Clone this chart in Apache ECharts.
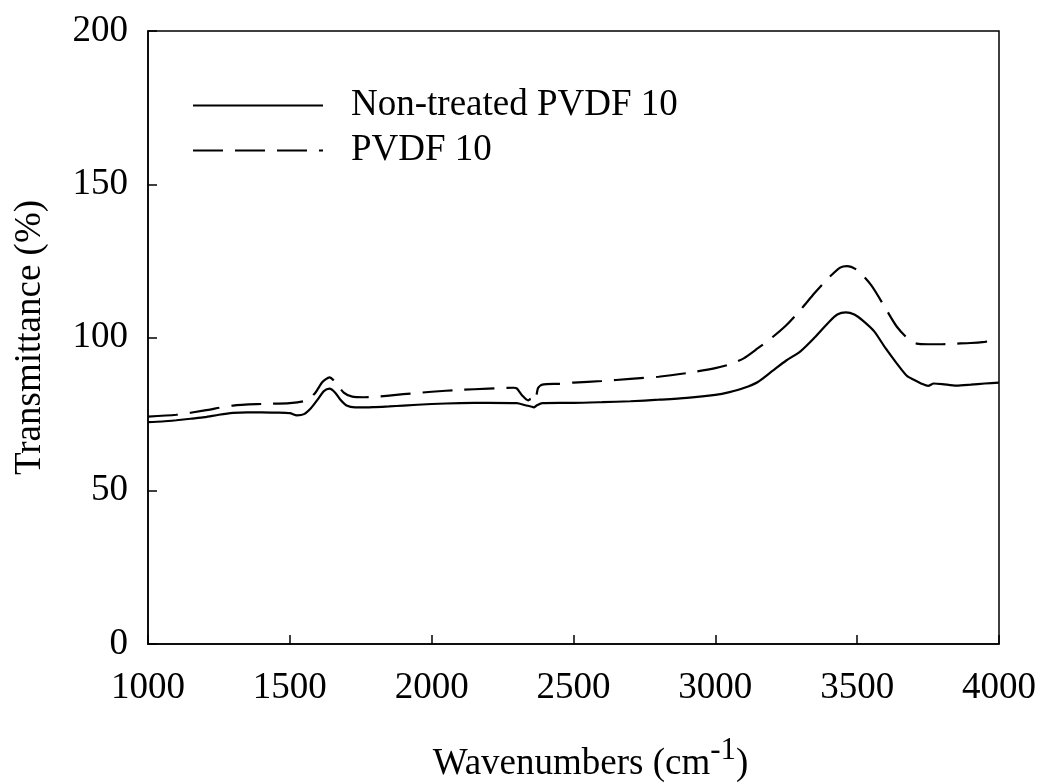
<!DOCTYPE html>
<html>
<head>
<meta charset="utf-8">
<script src="https://cdn.jsdelivr.net/npm/echarts@6/dist/echarts.min.js"></script>
<style>
html,body{margin:0;padding:0;background:#fff;}
#chart{width:1040px;height:784px;}
</style>
</head>
<body>
<div id="chart"></div>
<script>
var xTicks = [1000, 1500, 2000, 2500, 3000, 3500, 4000];
var yTicks = [0, 50, 100, 150, 200];
var seriesNames = ['Non-treated PVDF 10', 'PVDF 10'];

var nonTreated = [
  [1000,72.4],[1050,72.6],[1100,73.0],[1150,73.5],[1200,74.0],[1250,74.8],[1300,75.4],
  [1350,75.6],[1400,75.6],[1450,75.5],[1500,75.3],[1525,74.6],[1550,75.0],[1575,77.0],
  [1600,80.0],[1620,82.5],[1640,83.3],[1660,82.0],[1680,79.5],[1700,77.8],[1730,77.2],
  [1770,77.2],[1800,77.3],[1850,77.5],[1900,77.8],[2000,78.3],[2100,78.6],[2200,78.7],
  [2300,78.6],[2330,77.9],[2350,77.5],[2360,77.2],[2370,77.8],[2390,78.6],[2450,78.7],
  [2500,78.7],[2600,78.9],[2700,79.2],[2800,79.7],[2900,80.3],[3000,81.3],[3050,82.2],
  [3100,83.5],[3150,85.5],[3200,89.0],[3250,92.5],[3300,95.5],[3350,100.0],[3400,105.0],
  [3430,107.5],[3460,108.2],[3490,107.5],[3520,105.5],[3560,102.0],[3600,96.5],[3640,91.5],
  [3675,87.5],[3700,86.2],[3730,84.8],[3750,84.2],[3770,85.0],[3800,84.8],[3850,84.3],
  [3900,84.6],[3950,85.0],[4000,85.3]
];

var pvdf10 = [
  [1000,74.2],[1100,74.8],[1200,76.2],[1300,77.8],[1400,78.3],[1500,78.6],[1560,79.5],
  [1590,82.0],[1615,85.5],[1640,87.0],[1660,85.5],[1690,82.0],[1720,80.7],[1760,80.5],
  [1800,80.6],[1900,81.5],[2000,82.3],[2100,82.9],[2200,83.3],[2290,83.6],[2300,83.4],
  [2320,81.0],[2340,79.5],[2350,80.0],[2364,79.2],[2375,83.5],[2390,84.6],[2450,84.9],
  [2500,85.3],[2600,85.8],[2700,86.5],[2800,87.2],[2900,88.4],[3000,90.0],[3050,91.2],
  [3100,93.2],[3150,96.5],[3200,100.0],[3250,104.0],[3300,109.0],[3350,114.5],[3400,119.5],
  [3440,122.8],[3464,123.3],[3500,122.0],[3550,117.0],[3600,109.5],[3640,103.5],[3680,99.5],
  [3710,98.0],[3750,97.8],[3800,97.8],[3850,98.0],[3900,98.2],[3950,98.6],[4000,99.2]
];

var FONT = 'Liberation Serif';
var chart = echarts.init(document.getElementById('chart'), null, {renderer: 'canvas'});
chart.setOption({
  animation: false,
  backgroundColor: '#fff',
  textStyle: {fontFamily: FONT, color: '#000'},
  grid: {left: 148, right: 41, top: 31, bottom: 140, containLabel: false, outerBoundsMode: 'none',
    show: true, borderColor: '#000', borderWidth: 1.5, backgroundColor: 'transparent'},
  legend: {
    orient: 'vertical', left: 187, top: 82, itemWidth: 130, itemHeight: 14, itemGap: 8,
    data: seriesNames,
    itemStyle: {opacity: 0},
    textStyle: {fontFamily: FONT, fontSize: 37, color: '#000', lineHeight: 37, padding: [0, 0, 0, 23]}
  },
  xAxis: {
    type: 'value', min: xTicks[0], max: xTicks[xTicks.length - 1], interval: 500,
    splitLine: {show: false},
    axisLine: {lineStyle: {color: '#000', width: 1.5}},
    axisTick: {inside: true, length: 9, lineStyle: {color: '#000', width: 1.5}},
    axisLabel: {fontFamily: FONT, fontSize: 37, color: '#000', margin: 26, formatter: function (v) { return String(v); }},
    name: '{a|Wavenumbers (cm}{s|-1}{a|)}',
    nameLocation: 'middle', nameGap: 91,
    nameTextStyle: {
      padding: [0, 0, 0, 34],
      rich: {
        a: {fontFamily: FONT, fontSize: 37, color: '#000', lineHeight: 48, verticalAlign: 'bottom'},
        s: {fontFamily: FONT, fontSize: 31, color: '#000', lineHeight: 48, verticalAlign: 'top', padding: [0, 0, 30, 0]}
      }
    }
  },
  yAxis: {
    type: 'value', min: yTicks[0], max: yTicks[yTicks.length - 1], interval: 50,
    splitLine: {show: false},
    axisLine: {lineStyle: {color: '#000', width: 1.5}},
    axisTick: {inside: true, length: 9, lineStyle: {color: '#000', width: 1.5}},
    axisLabel: {fontFamily: FONT, fontSize: 37, color: '#000', margin: 20},
    name: 'Transmittance (%)', nameLocation: 'middle', nameGap: 99,
    nameTextStyle: {fontFamily: FONT, fontSize: 37, color: '#000'}
  },
  series: [
    {
      name: seriesNames[0], type: 'line', data: nonTreated, symbol: 'none', smooth: 0.25,
      lineStyle: {color: '#000', width: 2.2, type: 'solid'}, itemStyle: {color: '#000'}
    },
    {
      name: seriesNames[1], type: 'line', data: pvdf10, symbol: 'none', smooth: 0.25,
      lineStyle: {color: '#000', width: 2.2, type: [30, 12]}, itemStyle: {color: '#000'}
    }
  ]
});
</script>
</body>
</html>
